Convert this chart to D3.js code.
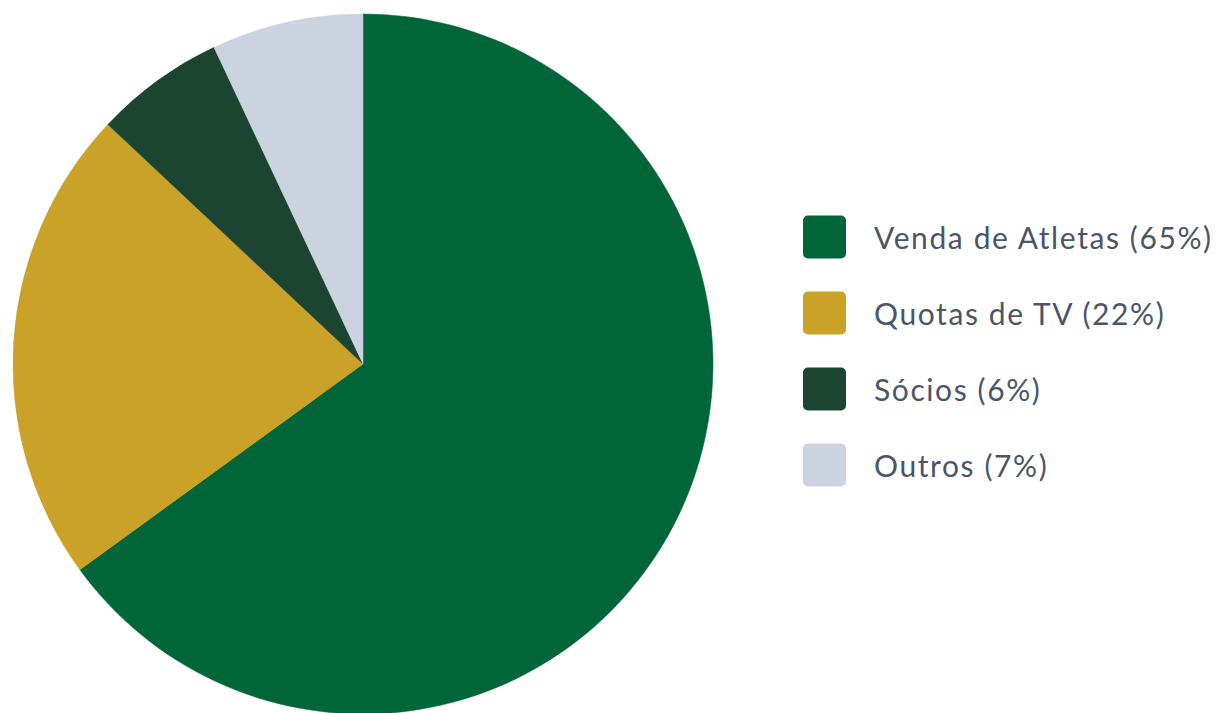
<!DOCTYPE html>
<html><head><meta charset="utf-8">
<script src="https://cdn.jsdelivr.net/npm/d3@7"></script>
<style>html,body{margin:0;padding:0;background:#fff;}svg{display:block;}</style>
</head><body>
<svg id="chart" width="1223" height="713"></svg>
<script>
const categories = ["Venda de Atletas", "Quotas de TV", "Sócios", "Outros"];
const values = [65, 22, 6, 7];
const colors = ["#00663a", "#c9a227", "#1b4530", "#cbd3e1"];

const svg = d3.select("#chart");
const cx = 363, cy = 364, r = 350;

const pie = d3.pie().sort(null).value(d => d.v);
const data = categories.map((c, i) => ({c, v: values[i], col: colors[i]}));
const arcs = pie(data);
const arc = d3.arc().innerRadius(0).outerRadius(r);

svg.append("g").attr("transform", `translate(${cx},${cy})`)
  .selectAll("path").data(arcs).join("path")
  .attr("d", arc).attr("fill", d => d.data.col)
  .attr("stroke", d => d.data.col).attr("stroke-width", 0.5);

const y = d3.scaleBand().domain(categories).range([199, 503]).paddingInner(0);
const lg = svg.append("g");
const rows = lg.selectAll("g").data(data).join("g")
  .attr("transform", d => `translate(803,${y(d.c) + y.bandwidth()/2})`);
rows.append("rect").attr("x", 0).attr("y", -21.5).attr("width", 43).attr("height", 43)
  .attr("rx", 5).attr("fill", d => d.col);
rows.append("text").attr("x", 71).attr("y", 11.5)
  .attr("font-family", "Lato, sans-serif").attr("font-size", 30)
  .attr("letter-spacing", 1.6)
  .attr("fill", "#4a5566")
  .text(d => `${d.c} (${d.v}%)`);
</script>
</body></html>
